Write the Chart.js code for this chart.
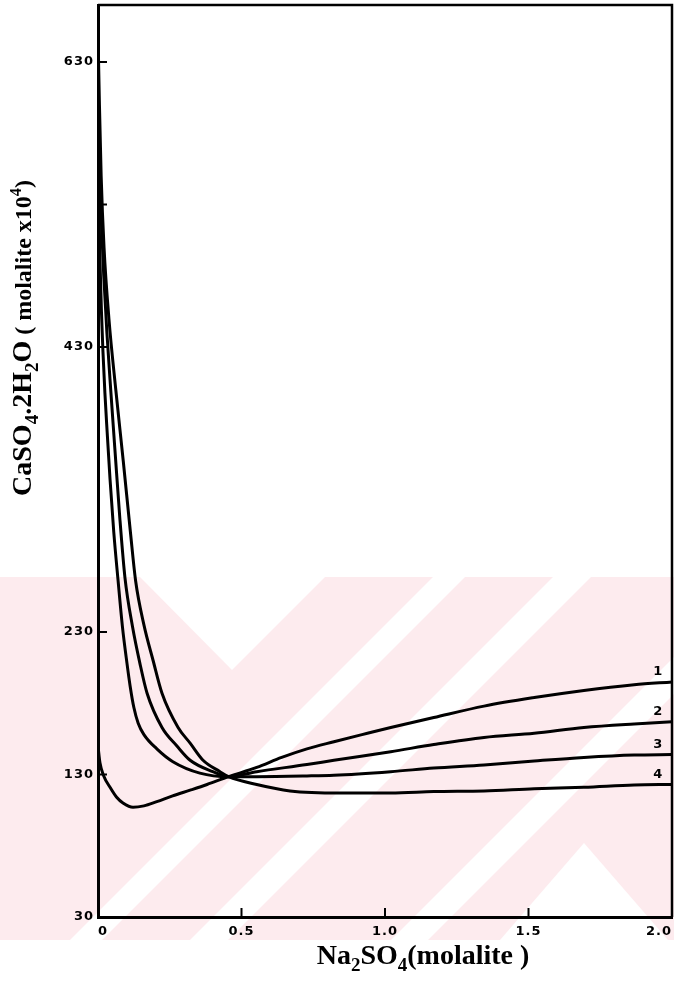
<!DOCTYPE html>
<html><head><meta charset="utf-8">
<script src="https://cdn.jsdelivr.net/npm/chart.js@4.4.1/dist/chart.umd.min.js"></script>
<style>html,body{margin:0;padding:0;background:#fff;}canvas{display:block}</style>
</head><body>
<canvas id="c" width="674" height="981" style="width:674px;height:981px"></canvas>
<script>
// ---- data ----
const xTickValues = [0, 0.5, 1.0, 1.5, 2.0];
const xTickLabels = ['0', '0.5', '1.0', '1.5', '2.0'];
const yTickValues = [30, 130, 230, 330, 430, 530, 630];
const yTickLabels = ['30', '130', '230', '', '430', '', '630'];
const yTickMarks = [130, 230, 430, 530, 630];
const xTickMarks = [0.5, 1.0, 1.5];
const curveNames = ['1', '2', '3', '4'];

const curve1X = [0, 0.007, 0.02, 0.042, 0.065, 0.087, 0.122, 0.16, 0.205, 0.26, 0.321, 0.38, 0.455, 0.553, 0.64, 0.728, 0.822, 0.92, 1.02, 1.17, 1.345, 1.52, 1.693, 1.868, 2.0];
const curve1Y = [150, 138, 129, 121, 114, 110, 107, 108, 111, 115, 119, 123, 128.5, 135, 142, 148, 153, 158, 163, 170, 178, 184, 189, 193, 195];

const curve2X = [0, 0.003, 0.007, 0.012, 0.017, 0.024, 0.032, 0.042, 0.055, 0.07, 0.085, 0.101, 0.112, 0.125, 0.14, 0.16, 0.205, 0.261, 0.355, 0.455, 0.553, 0.728, 0.822, 1.02, 1.17, 1.345, 1.52, 1.693, 1.868, 2.0];
const curve2Y = [575, 530, 490, 455, 428, 398, 370, 337, 300, 266, 234, 208, 192, 177, 166, 158, 148, 139, 131, 128.5, 132, 137, 140, 146, 151, 156, 159, 163, 165.5, 167];

const curve3X = [0, 0.004, 0.01, 0.02, 0.031, 0.045, 0.06, 0.076, 0.094, 0.12, 0.146, 0.171, 0.223, 0.275, 0.321, 0.40, 0.455, 0.553, 0.728, 0.822, 1.02, 1.17, 1.345, 1.52, 1.693, 1.868, 2.0];
const curve3Y = [615, 565, 526, 480, 440, 398, 355, 310, 268, 234, 208, 187, 163, 150, 140, 132, 128.5, 128.5, 129, 129.5, 132, 134.5, 136.7, 139.5, 142, 143.7, 144];

const curve4X = [0, 0.005, 0.011, 0.021, 0.038, 0.062, 0.088, 0.113, 0.131, 0.16, 0.192, 0.223, 0.279, 0.321, 0.366, 0.425, 0.455, 0.553, 0.669, 0.843, 1.02, 1.17, 1.345, 1.52, 1.693, 1.868, 2.0];
const curve4Y = [650, 600, 550, 500, 450, 400, 350, 300, 266, 235, 210, 187, 163, 152, 140, 132, 128.5, 123, 118.5, 117, 117, 118, 118.5, 120, 121, 122.6, 123];

// ---- helpers ----
const toPoints = (xs, ys) => xs.map((x, i) => ({x: x, y: ys[i]}));
const curves = [[curve1X, curve1Y], [curve2X, curve2Y], [curve3X, curve3Y], [curve4X, curve4Y]];

const xTitleParts = [{t: 'Na', s: 28}, {t: '2', s: 28, k: 'sub'}, {t: 'SO', s: 28}, {t: '4', s: 28, k: 'sub'}, {t: '(molalite )', s: 28}];
const yTitleParts = [{t: 'CaSO', s: 28}, {t: '4', s: 28, k: 'sub'}, {t: '.2H', s: 28}, {t: '2', s: 28, k: 'sub'}, {t: 'O', s: 28}, {t: ' ( molalite x10', s: 24}, {t: '4', s: 24, k: 'sup'}, {t: ')', s: 24}];

function partFont(p, family) {
  const s = p.k ? p.s * 0.68 : p.s;
  return 'bold ' + s + 'px ' + family;
}
function richWidth(ctx, parts, family) {
  let w = 0;
  parts.forEach(p => { ctx.font = partFont(p, family); w += ctx.measureText(p.t).width; });
  return w;
}
function drawRich(ctx, parts, family, ox, oy, angle, align) {
  ctx.save();
  ctx.translate(ox, oy);
  ctx.rotate(angle);
  ctx.textAlign = 'left';
  ctx.textBaseline = 'alphabetic';
  const total = richWidth(ctx, parts, family);
  let x = align === 'end' ? -total : -total / 2;
  parts.forEach(p => {
    ctx.font = partFont(p, family);
    const dy = p.k === 'sub' ? p.s * 0.25 : (p.k === 'sup' ? -p.s * 0.42 : 0);
    ctx.fillText(p.t, x, dy);
    x += ctx.measureText(p.t).width;
  });
  ctx.restore();
}

// decorative watermark shapes (background only, pixel geometry)
const wmBand = {top: 577, bottom: 940};
const wmWhite = [
  [[140, 577], [325, 577], [232, 670]],
  [[500, 940], [584, 843], [668, 940]],
  [[70, 940], [102, 940], [465, 577], [433, 577]],
  [[190, 940], [228, 940], [591, 577], [553, 577]],
  [[391, 940], [428, 940], [674, 694], [674, 657]]
];

const decor = {
  id: 'decor',
  beforeDraw(chart) {
    const ctx = chart.ctx;
    ctx.save();
    ctx.fillStyle = '#fdebee';
    ctx.fillRect(0, wmBand.top, chart.width, wmBand.bottom - wmBand.top);
    ctx.fillStyle = '#ffffff';
    wmWhite.forEach(poly => {
      ctx.beginPath();
      ctx.moveTo(poly[0][0], poly[0][1]);
      for (let i = 1; i < poly.length; i++) ctx.lineTo(poly[i][0], poly[i][1]);
      ctx.closePath();
      ctx.fill();
    });
    ctx.restore();
    ctx.letterSpacing = '1px';
  },
  afterDraw(chart) {
    const ctx = chart.ctx, a = chart.chartArea, xs = chart.scales.x, ys = chart.scales.y;
    ctx.save();
    ctx.letterSpacing = '0px';
    ctx.strokeStyle = '#000';
    ctx.lineWidth = 2.5;
    ctx.beginPath();
    ctx.moveTo(a.left, a.top);
    ctx.lineTo(a.right, a.top);
    ctx.lineTo(a.right, a.bottom);
    ctx.stroke();
    ctx.lineWidth = 2;
    yTickMarks.forEach(v => {
      const y = ys.getPixelForValue(v);
      ctx.beginPath(); ctx.moveTo(a.left, y); ctx.lineTo(a.left + 9, y); ctx.stroke();
    });
    xTickMarks.forEach(v => {
      const x = xs.getPixelForValue(v);
      ctx.beginPath(); ctx.moveTo(x, a.bottom); ctx.lineTo(x, a.bottom - 9); ctx.stroke();
    });
    ctx.fillStyle = '#000';
    ctx.font = 'bold 13px "DejaVu Sans"';
    ctx.textAlign = 'center';
    ctx.textBaseline = 'middle';
    chart.data.datasets.forEach((ds, i) => {
      const last = ds.data[ds.data.length - 1];
      ctx.fillText(curveNames[i], xs.getPixelForValue(1.95), ys.getPixelForValue(last.y) - 10);
    });
    const fam = '"Liberation Serif", "Times New Roman", serif';
    drawRich(ctx, xTitleParts, fam, 423, 964, 0, 'center');
    drawRich(ctx, yTitleParts, fam, 31, 180, -Math.PI / 2, 'end');
    ctx.restore();
  }
};

new Chart(document.getElementById('c'), {
  type: 'line',
  data: {
    datasets: curves.map((c, i) => ({
      label: curveNames[i],
      data: toPoints(c[0], c[1]),
      borderColor: '#000',
      borderWidth: 3,
      pointRadius: 0,
      fill: false,
      cubicInterpolationMode: 'monotone',
      borderCapStyle: 'round',
      borderJoinStyle: 'round'
    }))
  },
  options: {
    responsive: false,
    animation: false,
    events: [],
    layout: {padding: {top: 5, right: 2, left: 0, bottom: 0}},
    plugins: {legend: {display: false}, tooltip: {enabled: false}},
    scales: {
      x: {
        type: 'linear', min: 0, max: 2,
        afterFit(s) { s.height = 64; s.paddingLeft = 0; s.paddingRight = 0; },
        afterBuildTicks(s) { s.ticks = xTickValues.map(v => ({value: v})); },
        ticks: {
          callback: (v, i) => xTickLabels[i],
          font: {family: '"DejaVu Sans"', weight: 'bold', size: 13},
          color: '#000', padding: 7, maxRotation: 0, autoSkip: false, align: 'inner'
        },
        grid: {display: false, drawTicks: false},
        border: {display: true, width: 3, color: '#000'}
      },
      y: {
        type: 'linear', min: 30, max: 670,
        afterFit(s) { s.width = 98; s.paddingTop = 0; s.paddingBottom = 0; },
        afterBuildTicks(s) { s.ticks = yTickValues.map(v => ({value: v})); },
        ticks: {
          callback: (v, i) => yTickLabels[i],
          font: {family: '"DejaVu Sans"', weight: 'bold', size: 13},
          color: '#000', padding: 4, autoSkip: false
        },
        grid: {display: false, drawTicks: false},
        border: {display: true, width: 3, color: '#000'}
      }
    }
  },
  plugins: [decor]
});
</script>
</body></html>
